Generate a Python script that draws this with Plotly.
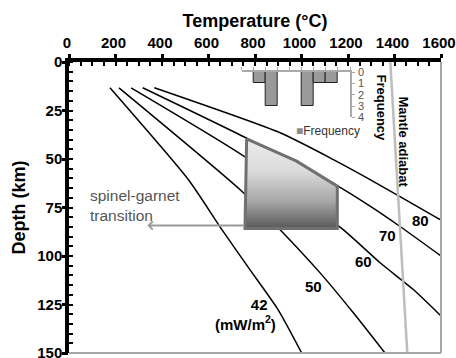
import plotly.graph_objects as go

# ---------------- data ----------------
# geotherms: temperature (°C) vs depth (km), labelled by surface heat flow (mW/m2)
t42 = [176, 513, 657, 778, 899, 1001]
d42 = [13.3, 60.6, 86.3, 107, 127.6, 150]
t50 = [215, 735, 907, 1080, 1223, 1359]
d50 = [13.3, 65.7, 86.3, 108.7, 129.3, 150]
t60 = [267, 757, 1178, 1338, 1481, 1600]
d60 = [13.3, 48.9, 86.3, 103.5, 117.3, 130.9]
t70 = [317, 766, 1153, 1295, 1424, 1600]
d70 = [13.3, 39.4, 63.7, 74.3, 84.8, 100.0]
t80 = [367, 908, 1137, 1295, 1583, 1600]
d80 = [13.3, 36.5, 50.3, 60.6, 80.3, 81.4]

adiabat_t = [1382, 1455]
adiabat_d = [0, 150]

# xenolith P-T field (shaded box)
box_t = [764, 979, 1154, 1154, 757, 764]
box_d = [39.6, 51.1, 64.0, 85.8, 85.8, 39.6]

# spinel-garnet transition arrow
arrow_tail_t, arrow_head_t, arrow_d = 757, 337, 84.3

# frequency histogram (50 °C bins)
bin_lo = [750, 800, 850, 900, 950, 1000, 1050, 1100, 1150]
freq = [0, 1, 3, 0, 0, 3, 1, 1, 0]
bin_w = 50

x_ticks = [0, 200, 400, 600, 800, 1000, 1200, 1400, 1600]
y_ticks = [0, 25, 50, 75, 100, 125, 150]

FONT = "Liberation Sans"

fig = go.Figure()

for t, d in [(t42, d42), (t50, d50), (t60, d60), (t70, d70), (t80, d80)]:
    fig.add_trace(go.Scatter(x=t, y=d, mode="lines",
                             line=dict(color="black", width=1.5, shape="spline", smoothing=0.6),
                             showlegend=False, hoverinfo="skip"))

fig.add_trace(go.Scatter(x=adiabat_t, y=adiabat_d, mode="lines",
                         line=dict(color="#bdbdbd", width=2.5),
                         showlegend=False, hoverinfo="skip"))

fig.add_trace(go.Scatter(x=box_t, y=box_d, mode="lines", fill="toself",
                         fillgradient=dict(type="vertical", start=min(box_d), stop=max(box_d),
                                           colorscale=[[0, "#ebebed"], [0.35, "#dcdcdc"],
                                                       [0.7, "#a6a6a6"], [1, "#585858"]]),
                         line=dict(color="#707070", width=3),
                         showlegend=False, hoverinfo="skip"))

fig.add_trace(go.Bar(x=[b + bin_w / 2 for b in bin_lo], y=freq, width=bin_w,
                     marker=dict(color="#9a9a9a", line=dict(color="#222", width=1)),
                     xaxis="x2", yaxis="y2", showlegend=False, hoverinfo="skip"))

fig.update_layout(
    width=456, height=358,
    margin=dict(l=69, r=15, t=62, b=5),
    paper_bgcolor="white", plot_bgcolor="white",
    font=dict(family=FONT, color="black"),
    xaxis=dict(
        side="top", range=[0, 1600], tickvals=x_ticks, automargin=False,
        showline=True, linecolor="black", linewidth=3.5,
        ticks="outside", ticklen=4, tickwidth=2.5, tickcolor="black",
        minor=dict(dtick=50, tick0=0, ticks="inside", ticklen=4, tickwidth=2, tickcolor="black"),
        tickfont=dict(size=15, weight="bold"), ticklabelshift=-2,
        title=dict(text="Temperature (°C)", font=dict(size=18, weight="bold"), standoff=3),
        showgrid=False, zeroline=False,
    ),
    yaxis=dict(
        range=[150, 0], tickvals=y_ticks, automargin=False,
        showline=True, linecolor="black", linewidth=3.5,
        ticks="outside", ticklen=0, tickwidth=2.5, tickcolor="black",
        minor=dict(dtick=5, tick0=0, ticks="inside", ticklen=4, tickwidth=2, tickcolor="black"),
        tickfont=dict(size=15, weight="bold"), ticklabeloverflow="allow",
        title=dict(text="Depth (km)", font=dict(size=18, weight="bold"), standoff=8),
        showgrid=False, zeroline=False,
    ),
    # overlay axis carrying only the major outward tick marks of the depth axis
    yaxis3=dict(
        overlaying="y", side="left", range=[150, 0], tickvals=y_ticks, automargin=False,
        ticks="outside", ticklen=6, tickwidth=2.5, tickcolor="black",
        showticklabels=False, showline=False, showgrid=False, zeroline=False,
    ),
    xaxis2=dict(
        domain=[0.4642, 0.7554], anchor="y2", side="top", range=[750, 1200],
        tick0=750, dtick=50, ticks="outside", ticklen=3, tickwidth=1, tickcolor="#aaaaaa",
        showline=True, linecolor="#aaaaaa", linewidth=1.5, showticklabels=False,
        showgrid=False, zeroline=False, automargin=False,
    ),
    yaxis2=dict(
        domain=[0.8093, 0.9656], anchor="x2", side="right", range=[4, 0],
        dtick=1, ticks="outside", ticklen=3, tickwidth=1, tickcolor="#aaaaaa",
        showline=True, linecolor="#aaaaaa", linewidth=1.5,
        tickfont=dict(size=11, color="#555555"), ticklabelstandoff=1,
        showgrid=False, zeroline=False, automargin=False,
    ),
    bargap=0,
    showlegend=False,
)

# invisible trace so that the tick-mark overlay axis is drawn
fig.add_trace(go.Scatter(x=[None], y=[None], yaxis="y3", showlegend=False, hoverinfo="skip"))

# right and bottom frame lines
fig.add_shape(type="line", xref="paper", yref="paper", x0=1, x1=1, y0=0, y1=1,
              line=dict(color="#a8a8a8", width=2))
fig.add_shape(type="line", xref="paper", yref="paper", x0=0, x1=1, y0=0, y1=0,
              line=dict(color="#a8a8a8", width=2))

# arrow
fig.add_annotation(x=arrow_head_t, y=arrow_d, ax=arrow_tail_t, ay=arrow_d,
                   xref="x", yref="y", axref="x", ayref="y", text="",
                   showarrow=True, arrowhead=4, arrowsize=0.8, arrowwidth=2,
                   arrowcolor="#9a9a9a", standoff=0)

labels = [
    ("80", 1510, 81.7), ("70", 1372, 89.4), ("60", 1265, 102.8),
    ("50", 1052, 115.7),
]
for txt, x, y in labels:
    fig.add_annotation(x=x, y=y, xref="x", yref="y", text=txt, showarrow=False,
                       font=dict(size=15, weight="bold", color="black"))

# heat-flow unit label (42 mW/m2)
fig.add_annotation(x=899, y=130.2, xref="x", yref="y", xanchor="right", align="right",
                   text="42&nbsp;&nbsp;<br>(mW/m<sup>2</sup>)", showarrow=False,
                   font=dict(size=15, weight="bold", color="black"))

fig.add_annotation(x=82, y=74, xref="x", yref="y", text="spinel-garnet<br>transition",
                   showarrow=False, xanchor="left", align="left",
                   font=dict(size=15.5, color="#555555"))

fig.add_annotation(x=1437, y=41, xref="x", yref="y", text="Mantle adiabat", textangle=90,
                   showarrow=False, font=dict(size=13, weight="bold", color="black"))
fig.add_annotation(x=1342, y=23.5, xref="x", yref="y", text="Frequency", textangle=90,
                   showarrow=False, font=dict(size=13, weight="bold", color="black"))

fig.add_annotation(x=0.7876, y=0.7646, xref="paper", yref="paper",
                   xanchor="right", yanchor="middle",
                   text='<span style="color:#8a8a8a">■</span>Frequency', showarrow=False,
                   font=dict(size=12, color="#333333"))

fig.write_html("out.html")
